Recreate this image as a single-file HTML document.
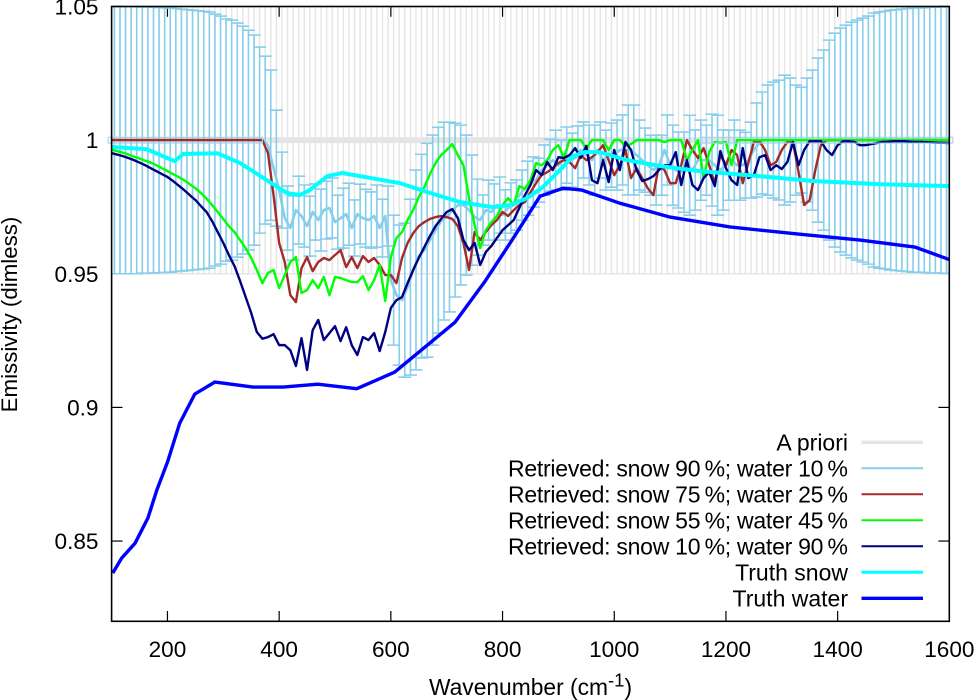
<!DOCTYPE html>
<html lang="en">
<head>
<meta charset="utf-8">
<title>Emissivity vs wavenumber</title>
<style>
html,body{margin:0;padding:0;background:#fff;width:977px;height:700px;overflow:hidden}
svg{display:block;font-family:"Liberation Sans",sans-serif;font-size:22.6px;fill:#000}
</style>
</head>
<body>
<svg id="chart" xmlns="http://www.w3.org/2000/svg" width="977" height="700" viewBox="0 0 977 700">
  <defs><clipPath id="plot-clip"><rect x="111.6" y="6.5" width="837.7" height="614.8"></rect></clipPath></defs>
  <g id="ticks"></g>
  <g id="series" clip-path="url(#plot-clip)"></g>
  <g id="end-boxes"></g>
  <rect x="111.6" y="6.5" width="837.7" height="614.8" fill="none" stroke="#000" stroke-width="1.6"></rect>
  <g id="tick-labels"></g>
  <text transform="translate(17,314.5) rotate(-90)" text-anchor="middle" font-size="22.3">Emissivity (dimless)</text>
  <text x="530.5" y="695" text-anchor="middle" font-size="22.8">Wavenumber (cm<tspan dy="-8.5" font-size="18.5">-1</tspan><tspan dy="8.5">)</tspan></text>
  <g text-anchor="end" font-size="23">
    <text x="848" y="450.7">A priori</text>
    <line x1="861.5" x2="923" y1="442.3" y2="442.3" stroke="#e5e5e5" stroke-width="3.4"></line>
    <text x="848" y="476.7" textLength="340" lengthAdjust="spacing">Retrieved: snow 90&#8201;%; water 10&#8201;%</text>
    <line x1="861.5" x2="923" y1="468.3" y2="468.3" stroke="#87ceeb" stroke-width="2"></line>
    <text x="848" y="502.7" textLength="340" lengthAdjust="spacing">Retrieved: snow 75&#8201;%; water 25&#8201;%</text>
    <line x1="861.5" x2="923" y1="494.3" y2="494.3" stroke="#a52a2a" stroke-width="2"></line>
    <text x="848" y="528.7" textLength="340" lengthAdjust="spacing">Retrieved: snow 55&#8201;%; water 45&#8201;%</text>
    <line x1="861.5" x2="923" y1="520.3" y2="520.3" stroke="#00ff00" stroke-width="2"></line>
    <text x="848" y="554.7" textLength="340" lengthAdjust="spacing">Retrieved: snow 10&#8201;%; water 90&#8201;%</text>
    <line x1="861.5" x2="923" y1="546.3" y2="546.3" stroke="#000080" stroke-width="2"></line>
    <text x="848" y="580.7">Truth snow</text>
    <line x1="861.5" x2="923" y1="572.3" y2="572.3" stroke="#00ffff" stroke-width="3"></line>
    <text x="848" y="606.7">Truth water</text>
    <line x1="861.5" x2="923" y1="598.3" y2="598.3" stroke="#0000ff" stroke-width="3.4"></line>
  </g>
</svg>
<script>
const xTicks = [200, 400, 600, 800, 1000, 1200, 1400, 1600];
const yTicks = [0.85, 0.9, 0.95, 1, 1.05];
const yTickLabels = ["0.85", "0.9", "0.95", "1", "1.05"];

const wavenumbers = [
100,110,120,130,140,150,160,170,180,190,
200,210,220,230,240,250,260,270,280,290,
300,310,320,330,340,350,360,370,380,390,
400,410,420,430,440,450,460,470,480,490,
500,510,520,530,540,550,560,570,580,590,
600,610,620,630,640,650,660,670,680,690,
700,710,720,730,740,750,760,770,780,790,
800,810,820,830,840,850,860,870,880,890,
900,910,920,930,940,950,960,970,980,990,
1000,1010,1020,1030,1040,1050,1060,1070,1080,1090,
1100,1110,1120,1130,1140,1150,1160,1170,1180,1190,
1200,1210,1220,1230,1240,1250,1260,1270,1280,1290,
1300,1310,1320,1330,1340,1350,1360,1370,1380,1390,
1400,1410,1420,1430,1440,1450,1460,1470,1480,1490,
1500,1510,1520,1530,1540,1550,1560,1570,1580,1590,
1600];

const errorBarWavenumbers = [
105,115,125,135,145,155,165,175,185,195,
205,215,225,235,245,255,265,275,285,295,
305,315,325,335,345,355,365,375,385,395,
405,415,425,435,445,455,465,475,485,495,
505,515,525,535,545,555,565,575,585,595,
605,615,625,635,645,655,665,675,685,695,
705,715,725,735,745,755,765,775,785,795,
805,815,825,835,845,855,865,875,885,895,
905,915,925,935,945,955,965,975,985,995,
1005,1015,1025,1035,1045,1055,1065,1075,1085,1095,
1105,1115,1125,1135,1145,1155,1165,1175,1185,1195,
1205,1215,1225,1235,1245,1255,1265,1275,1285,1295,
1305,1315,1325,1335,1345,1355,1365,1375,1385,1395,
1405,1415,1425,1435,1445,1455,1465,1475,1485,1495,
1505,1515,1525,1535,1545,1555,1565,1575,1585,1595];

const priorMean = [
1,1,1,1,1,1,1,1,1,1, 1,1,1,1,1,1,1,1,1,1, 1,1,1,1,1,1,1,1,1,1,
1,1,1,1,1,1,1,1,1,1, 1,1,1,1,1,1,1,1,1,1, 1,1,1,1,1,1,1,1,1,1,
1,1,1,1,1,1,1,1,1,1, 1,1,1,1,1,1,1,1,1,1, 1,1,1,1,1,1,1,1,1,1,
1,1,1,1,1,1,1,1,1,1, 1,1,1,1,1,1,1,1,1,1, 1,1,1,1,1,1,1,1,1,1,
1,1,1,1,1,1,1,1,1,1, 1,1,1,1,1,1,1,1,1,1, 1,1,1,1,1,1,1,1,1,1,
1];
const priorError = [
.05,.05,.05,.05,.05,.05,.05,.05,.05,.05, .05,.05,.05,.05,.05,.05,.05,.05,.05,.05, .05,.05,.05,.05,.05,.05,.05,.05,.05,.05,
.05,.05,.05,.05,.05,.05,.05,.05,.05,.05, .05,.05,.05,.05,.05,.05,.05,.05,.05,.05, .05,.05,.05,.05,.05,.05,.05,.05,.05,.05,
.05,.05,.05,.05,.05,.05,.05,.05,.05,.05, .05,.05,.05,.05,.05,.05,.05,.05,.05,.05, .05,.05,.05,.05,.05,.05,.05,.05,.05,.05,
.05,.05,.05,.05,.05,.05,.05,.05,.05,.05, .05,.05,.05,.05,.05,.05,.05,.05,.05,.05, .05,.05,.05,.05,.05,.05,.05,.05,.05,.05,
.05,.05,.05,.05,.05,.05,.05,.05,.05,.05, .05,.05,.05,.05,.05,.05,.05,.05,.05,.05, .05,.05,.05,.05,.05,.05,.05,.05,.05,.05,
.05];

const snow90Values = [
1,1,1,1,1,1,1,1,1,1,
1,1,1,1,1,1,1,1,1,1,
1,1,1,1,1,1,1,1,.9981,.9895,
.9813,.9708,.9671,.9738,.9716,.9678,.9731,.9701,.9738,.9746,
.9693,.9708,.9723,.9671,.9723,.9708,.9701,.9716,.9671,.9716,
.9476,.942,.9401,.945,.9514,.9566,.9588,.9626,.9663,.9697,
.9712,.9738,.9757,.9757,.9738,.9712,.9701,.9738,.9731,.9757,
.972,.9746,.9757,.9794,.982,.9843,.985,.9888,.9906,.9925,
.9906,.9944,.9925,.9933,.9963,.9944,.9925,.9963,.9925,.9944,
.9944,.9963,.9963,.9963,.9944,.9925,.9906,.9888,.9906,.9963,
.9906,.9888,.988,.9906,.9888,.9925,.9925,.9925,.9906,.9888,
.9906,.9925,.9906,.9906,.9925,.9963,.9989,1,1,1,
1,1,1,1,1,1,1,1,1,1,
1,1,1,1,1,1,1,1,1,1,
1,1,1,1,1,1,1,1,1,1,
1];
const snow90Error = [
.05,.05,.05,.05,.05,.0498,.0498,.0497,.0496,.0495,
.0494,.0492,.049,.0488,.0486,.0484,.0482,.0479,.0471,.0464,
.0453,.0449,.0438,.0426,.0411,.0393,.0348,.0314,.0281,.0217,
.0142,.012,.012,.0127,.0116,.0112,.0105,.0116,.0108,.0112,
.0101,.0112,.0116,.0105,.0112,.0108,.0105,.0116,.0108,.0112,
.0243,.0262,.0288,.0329,.0374,.0381,.04,.0393,.0385,.037,
.0355,.0325,.0299,.0262,.0206,.0142,.0094,.0112,.0105,.0105,
.0094,.0094,.0094,.0094,.0101,.0094,.0082,.0094,.0097,.0112,
.0094,.0105,.0101,.012,.0105,.0112,.0131,.0105,.0112,.012,
.0131,.0131,.0168,.0168,.0131,.012,.0112,.0131,.0112,.0131,
.015,.0142,.015,.0187,.015,.015,.0131,.0172,.0187,.015,
.0131,.015,.0131,.0123,.0142,.0176,.0191,.0206,.0217,.0224,
.0243,.0232,.0206,.0198,.0232,.0262,.0307,.0337,.0374,.04,
.0419,.043,.0441,.0449,.0456,.0464,.0475,.0479,.0482,.0486,
.0488,.049,.0492,.0494,.0494,.0495,.0497,.0497,.0498,.0499,
.05];

const snow75Values = [
1,1,1,1,1,1,1,1,1,1,
1,1,1,1,1,1,1,1,1,1,
1,1,1,1,1,1,1,1,.9951,.9794,
.9615,.9544,.942,.9394,.9521,.9562,.951,.9544,.9559,.9551,
.957,.9588,.9525,.9562,.9521,.9566,.9544,.9559,.9533,.9495,
.9495,.9465,.9559,.9615,.9652,.9678,.9693,.9705,.9712,.9716,
.9712,.9705,.9678,.9615,.9514,.9656,.9626,.9656,.9682,.9701,
.9731,.9716,.9738,.9757,.9768,.9805,.9839,.9869,.988,.9895,
.9914,.9925,.9918,.9895,.9944,.9925,.9936,.9955,.9981,.9925,
.9869,.9906,.9963,.9858,.9895,.9858,.982,.9794,.9906,.9888,
.9839,.9839,.9906,1,.9963,.9933,.997,.9906,.9839,.9944,
.9906,.9963,.9944,.9839,.9914,.9993,.9996,.9963,.9906,.9918,
.9963,.9993,.9993,.988,.9757,.9776,.9888,.9981,1,1,
1,1,1,1,1,1,1,1,1,1,
1,1,1,1,1,1,1,1,1,1,
1];

const snow55Values = [
.9964,.9959,.9953,.9946,.9938,.9931,.9923,.9916,.9906,.9895,
.9884,.9873,.9862,.985,.9835,.982,.9802,.9781,.9757,.9731,
.9705,.9678,.9656,.9626,.9596,.9559,.9514,.9465,.9503,.9514,
.9446,.9495,.9544,.9562,.9428,.9439,.9476,.9446,.9488,.942,
.9488,.9484,.9476,.9469,.9469,.9491,.9439,.9476,.9533,.9398,
.9562,.9634,.9656,.9701,.9738,.9787,.9824,.9873,.9914,.9944,
.9963,.9985,.9944,.9906,.9783,.9682,.9596,.9663,.9693,.9716,
.9757,.9783,.9757,.9828,.9817,.985,.9914,.9906,.9925,.9963,
.9981,.9933,1,1,1,.997,1,1,1,.9963,
1,1,.9978,.9985,1,1,1,1,1,.9993,
1,1,1,.9925,.9963,1,.9858,.9955,.9993,.9989,
.9993,.9906,1,1,1,1,1,1,1,1,
1,1,1,1,1,1,1,1,1,1,
1,1,1,1,1,1,1,1,1,1,
1,1,1,1,1,1,1,1,1,1,
1];

const snow10Values = [
.9951,.9946,.994,.9933,.9925,.9916,.9906,.9895,.9884,.9873,
.9862,.9847,.983,.9813,.9794,.9776,.9753,.9731,.9697,.9656,
.9615,.957,.9529,.9473,.9413,.9353,.9282,.9257,.9263,.9274,
.9233,.9233,.9214,.9155,.9259,.914,.9289,.9327,.9252,.9278,
.9304,.9248,.93,.9233,.9196,.9263,.9252,.9278,.9211,.9282,
.9372,.9401,.9413,.9465,.9514,.9559,.96,.9641,.9678,.9705,
.9731,.9742,.9708,.9626,.9588,.9615,.9533,.9581,.9604,.9634,
.9663,.9682,.9701,.9746,.9794,.9832,.9888,.9869,.9918,.9888,
.9936,.9933,.9944,.997,.9933,.9978,.985,.9839,.9925,.9843,
.9963,.9888,.9993,.9963,.9888,.9847,.9854,.9865,.9888,.9906,
.9906,.9955,.9832,.9925,.9832,.9813,.9858,.988,.9828,.9959,
.9895,.985,.9832,.997,.9858,.9869,.9936,.9944,.9888,.9906,
.9892,.9918,.9993,.9906,.9963,.9996,.9996,.9996,.9963,.9944,
.9981,.9996,.9996,.9993,.9981,.9981,.9985,.9989,.9993,.9994,
.9996,.9996,.9996,.9994,.9993,.9993,.9992,.9991,.999,.999,
.9989];

const truthSnowWavenumbers = [101,163,196,213,228,289,330,378,414,437,455,486,513,586,616,666,724,783,813,844,872,903,926,947,974,1023,1082,1153,1238,1356,1476,1600];
const truthSnowValues = [.9974,.9966,.9936,.9921,.9948,.9951,.9914,.985,.9802,.9794,.9813,.9865,.9877,.985,.9839,.9805,.9768,.9749,.9757,.9783,.9824,.9888,.994,.9955,.9955,.9925,.9903,.9884,.9869,.9847,.9835,.9828];

const truthWaterWavenumbers = [102,118,142,165,181,200,222,249,285,353,407,469,539,607,715,769,817,867,908,942,1010,1100,1207,1332,1440,1538,1600];
const truthWaterValues = [.838,.8436,.8492,.8586,.8691,.8795,.8941,.905,.9095,.9076,.9076,.9087,.907,.9132,.9319,.9473,.9626,.979,.982,.9813,.9764,.9712,.9675,.9648,.9626,.96,.9553];

const priorBoxRanges = [[100, 370], [1155, 1600]];

const NS = 'http://www.w3.org/2000/svg';
function xScale(w) { return 111.6 + (w - 100) * 0.5585; }
function yScale(v) { return 140.1 + (1 - v) * 2673; }

function linePath(xs, ys) {
  return xs.map(function (w, i) {
    return (i ? 'L' : 'M') + xScale(w).toFixed(2) + ' ' + yScale(ys[i]).toFixed(2);
  }).join('');
}
function errorPath(xs, ys, es) {
  var d = '';
  xs.forEach(function (w, i) {
    var x = xScale(w), top = yScale(ys[i] + es[i]), bot = yScale(ys[i] - es[i]);
    d += 'M' + x.toFixed(2) + ' ' + top.toFixed(2) + 'V' + bot.toFixed(2);
    d += 'M' + (x - 6.5).toFixed(2) + ' ' + top.toFixed(2) + 'h13';
    d += 'M' + (x - 6.5).toFixed(2) + ' ' + bot.toFixed(2) + 'h13';
  });
  return d;
}

const seriesGroup = document.getElementById('series');
function addPath(name, d, color, width) {
  var el = document.createElementNS(NS, 'path');
  
  
  el.setAttribute('d', d);
  el.setAttribute('fill', 'none');
  el.setAttribute('stroke', color);
  el.setAttribute('stroke-width', width);
  el.setAttribute('stroke-linejoin', 'round');
  seriesGroup.appendChild(el);
}

const tickGroup = document.getElementById('ticks');
const labelGroup = document.getElementById('tick-labels');
xTicks.forEach(function (t) {
  var x = xScale(t);
  var pair = [[621.3, 611], [6.5, 16.8]];
  pair.forEach(function (p) {
    var tick = document.createElementNS(NS, 'line');
    
    
    tick.setAttribute('x1', x); tick.setAttribute('x2', x);
    tick.setAttribute('y1', p[0]); tick.setAttribute('y2', p[1]);
    tick.setAttribute('stroke', '#000'); tick.setAttribute('stroke-width', '1.2');
    tickGroup.appendChild(tick);
  });
  var label = document.createElementNS(NS, 'text');
  
  
  label.setAttribute('x', x);
  label.setAttribute('y', 657);
  label.setAttribute('text-anchor', 'middle');
  label.textContent = String(t);
  labelGroup.appendChild(label);
});
yTicks.forEach(function (t, i) {
  var y = yScale(t);
  var pair = [[111.6, 122.5], [949.3, 938.4]];
  pair.forEach(function (p) {
    var tick = document.createElementNS(NS, 'line');
    
    
    tick.setAttribute('x1', p[0]); tick.setAttribute('x2', p[1]);
    tick.setAttribute('y1', y); tick.setAttribute('y2', y);
    tick.setAttribute('stroke', '#000'); tick.setAttribute('stroke-width', '1.2');
    tickGroup.appendChild(tick);
  });
  var label = document.createElementNS(NS, 'text');
  
  
  label.setAttribute('x', 98.5);
  label.setAttribute('y', y + 8);
  label.setAttribute('text-anchor', 'end');
  label.textContent = yTickLabels[i];
  labelGroup.appendChild(label);
});

addPath('a-priori-error-bars', errorPath(errorBarWavenumbers, priorMean, priorError), '#e5e5e5', 1.4);
addPath('a-priori-line', linePath(wavenumbers, priorMean), '#e5e5e5', 6);
addPath('snow-90-error-bars', errorPath(errorBarWavenumbers, snow90Values, snow90Error), '#87ceeb', 1.6);
addPath('snow-90-line', linePath(wavenumbers, snow90Values), '#87ceeb', 2.6);
addPath('snow-75-line', linePath(wavenumbers, snow75Values), '#a52a2a', 2.4);
addPath('snow-55-line', linePath(wavenumbers, snow55Values), '#00ff00', 2.4);
addPath('snow-10-line', linePath(wavenumbers, snow10Values), '#000080', 2.4);
addPath('truth-snow-line', linePath(truthSnowWavenumbers, truthSnowValues), '#00ffff', 4);
addPath('truth-water-line', linePath(truthWaterWavenumbers, truthWaterValues), '#0000ff', 3.4);

const endBoxes = document.getElementById('end-boxes');
priorBoxRanges.forEach(function (r, i) {
  var box = document.createElementNS(NS, 'rect');
  
  
  var x0 = xScale(r[0]) - (i === 0 ? 3.4 : 0);
  var x1 = xScale(r[1]) + (i === 1 ? 3.4 : 0);
  box.setAttribute('x', x0);
  box.setAttribute('y', yScale(1) - 2.8);
  box.setAttribute('width', x1 - x0);
  box.setAttribute('height', 5.8);
  box.setAttribute('fill', 'none');
  box.setAttribute('stroke', '#9fd6ee');
  box.setAttribute('stroke-width', '1.1');
  endBoxes.appendChild(box);
});
</script>
</body>
</html>
